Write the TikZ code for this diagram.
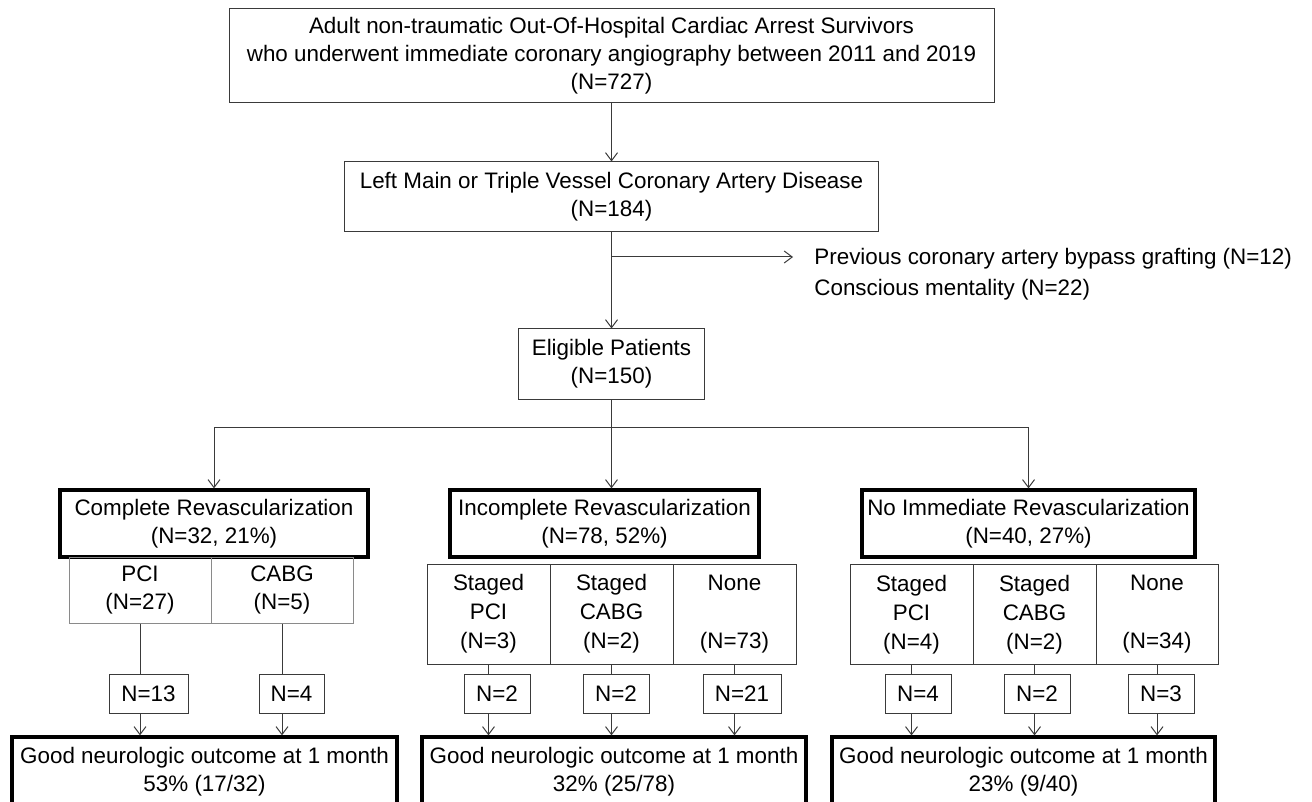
\documentclass[tikz,border=0pt]{standalone}
\usepackage{fontspec}
\setmainfont{Liberation Sans}
\usepackage{xcolor}
\usepackage{tikz}
\usetikzlibrary{arrows.meta,positioning,calc}

\definecolor{linegray}{HTML}{3A3A3A}
\definecolor{lightgray}{HTML}{8A8A8A}

\begin{document}
\begin{tikzpicture}[x=0.5pt, y=-0.5pt, font=\fontsize{11.2}{14}\selectfont,
        >={Straight Barb[length=4pt,width=6pt]},
        box/.style={rectangle, draw=linegray, line width=0.5pt, align=center, inner sep=0pt},
        groupbox/.style={rectangle, draw=black, line width=1.6pt, align=center, inner sep=0pt, minimum height=33.5pt},
        subbox/.style={box, minimum width=61.5pt, minimum height=50pt, font=\fontsize{11.2}{14.5}\selectfont},
        nbox/.style={box, minimum height=19.5pt},
        outbox/.style={groupbox, minimum height=34.5pt},
        conn/.style={draw=linegray, line width=0.5pt}]
    \useasboundingbox (0,0) rectangle (1312,802);
    \clip (0,0) rectangle (1312,802);

    % cohort and exclusion
    \node[box, minimum width=382.5pt, minimum height=47pt] (cohort) at (611.5,56)
        {Adult non-traumatic Out-Of-Hospital Cardiac Arrest Survivors\\who underwent immediate coronary angiography between 2011 and 2019\\(N=727)};
    \node[box, minimum width=267pt, minimum height=35pt] (lmtvd) at (611.5,197)
        {Left Main or Triple Vessel Coronary Artery Disease\\(N=184)};
    \node[box, minimum width=93pt, minimum height=35pt] (eligible) at (611.5,364)
        {Eligible Patients\\(N=150)};
    \coordinate (exclude) at (611.5,257);
    \coordinate (excludeend) at (793,257);
    \node[anchor=west, align=left, inner sep=0pt, font=\fontsize{11.2}{15.5}\selectfont] (reasons) at (814,274)
        {Previous coronary artery bypass grafting (N=12)\\Conscious mentality (N=22)};

    % revascularization groups
    \coordinate (split) at (611.5,427);
    \node[groupbox, minimum width=154pt] (complete) at (214,523.5) {Complete Revascularization\\(N=32, 21\%)};
    \node[groupbox, minimum width=154.5pt] (incomplete) at (604.5,523.5) {Incomplete Revascularization\\(N=78, 52\%)};
    \node[groupbox, minimum width=166.5pt] (noimm) at (1028.5,523.5) {No Immediate Revascularization\\(N=40, 27\%)};

    % treatment sub-groups
    \node[box, draw=lightgray, minimum width=71pt, minimum height=33pt] (cpci) at (140,590) {PCI\\(N=27)};
    \node[box, draw=lightgray, minimum width=71pt, minimum height=33pt] (ccabg) at (282,590) {CABG\\(N=5)};
    \node[subbox] (ipci) at (488.5,614) {Staged\\PCI\\(N=3)};
    \node[subbox] (icabg) at (611.5,614) {Staged\\CABG\\(N=2)};
    \node[subbox] (inone) at (734.5,614) {None\\\strut\\(N=73)};
    \node[subbox] (npci) at (911.5,614.5) {Staged\\PCI\\(N=4)};
    \node[subbox] (ncabg) at (1034.5,614.5) {Staged\\CABG\\(N=2)};
    \node[subbox, minimum width=61pt] (nnone) at (1157,614.5) {None\\\strut\\(N=34)};

    % good outcome counts
    \node[nbox, minimum width=39.5pt] (cpcin) at (148.5,693.5) {N=13};
    \node[nbox, minimum width=32.5pt] (ccabgn) at (291.5,693.5) {N=4};
    \node[nbox, minimum width=33pt] (ipcin) at (497,694) {N=2};
    \node[nbox, minimum width=33pt] (icabgn) at (616,694) {N=2};
    \node[nbox, minimum width=39pt] (inonen) at (742,694) {N=21};
    \node[nbox, minimum width=33pt] (npcin) at (918,693.5) {N=4};
    \node[nbox, minimum width=33pt] (ncabgn) at (1037,693.5) {N=2};
    \node[nbox, minimum width=33pt] (nnonen) at (1161,693.5) {N=3};

    \node[outbox, minimum width=192.5pt] (outc) at (204.5,771.5) {Good neurologic outcome at 1 month\\53\% (17/32)};
    \node[outbox, minimum width=192pt] (outi) at (614,771.5) {Good neurologic outcome at 1 month\\32\% (25/78)};
    \node[outbox, minimum width=191.5pt] (outn) at (1023.5,771.5) {Good neurologic outcome at 1 month\\23\% (9/40)};

    % connectors
    \draw[conn, ->] (cohort) -- (lmtvd);
    \draw[conn, ->] (lmtvd) -- (eligible);
    \draw[conn, ->] (exclude) -- (excludeend);
    \draw[conn] (eligible) -- (split);
    \draw[conn] (split -| complete) -- (split -| noimm);
    \draw[conn, ->] (split -| complete) -- (complete);
    \draw[conn, ->] (split) -- (split |- incomplete.north);
    \draw[conn, ->] (split -| noimm) -- (noimm);
    \foreach \sub/\cnt/\out in {cpci/cpcin/outc, ccabg/ccabgn/outc, ipci/ipcin/outi, icabg/icabgn/outi,
            inone/inonen/outi, npci/npcin/outn, ncabg/ncabgn/outn, nnone/nnonen/outn} {
        \draw[conn] (\sub) -- (\sub |- \cnt.north);
        \draw[conn, ->] (\sub |- \cnt.south) -- (\sub |- \out.north);
    }
\end{tikzpicture}
\end{document}
